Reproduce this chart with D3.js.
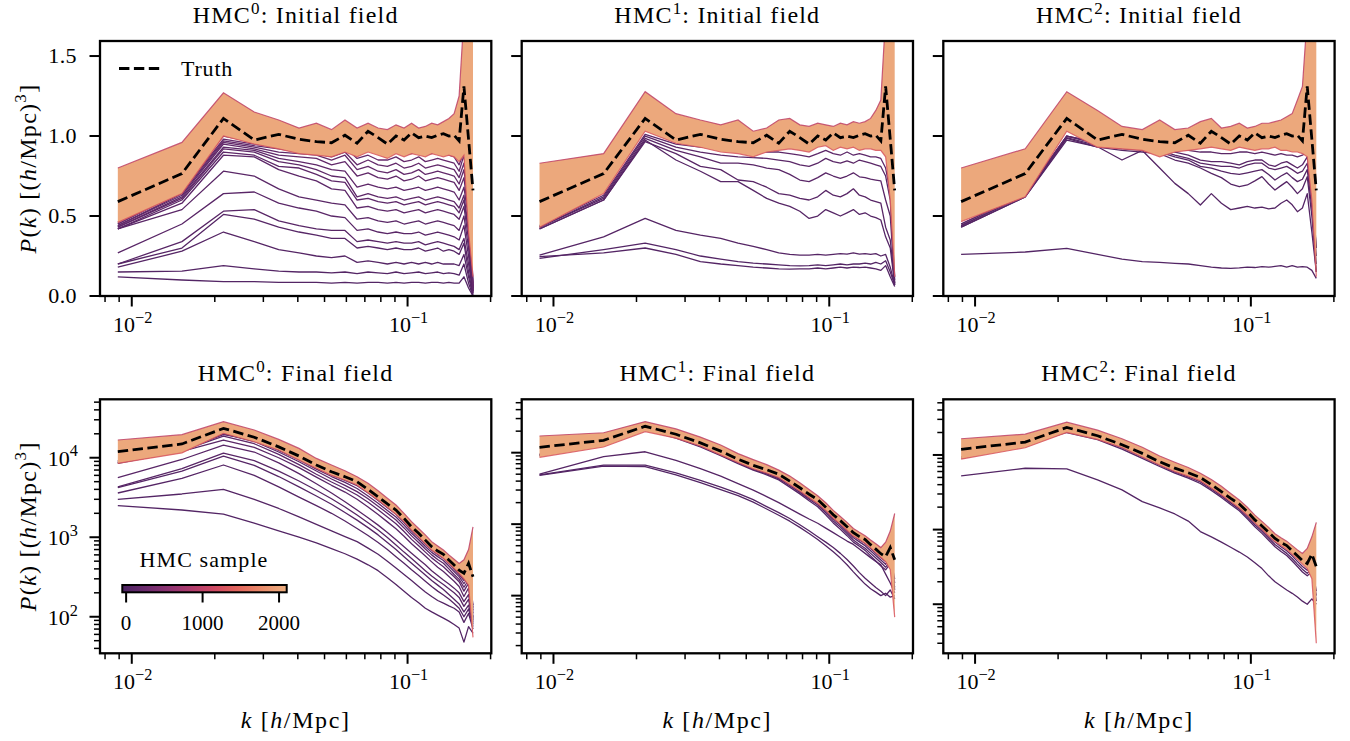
<!DOCTYPE html>
<html>
<head>
<meta charset="utf-8">
<script src="https://cdn.jsdelivr.net/npm/d3@7/dist/d3.min.js"></script>
<style>
  body { margin: 0; background: #fff; }
  svg { display: block; }
  text { font-family: "Liberation Serif", "DejaVu Serif", serif; fill: #000; }
</style>
</head>
<body>
<svg id="chart" width="1350" height="741"></svg>
<script>
// ---- wavenumber bins [h/Mpc] ----
const kBins = [0.0089, 0.0152, 0.0215, 0.0278, 0.0341, 0.0404, 0.0467, 0.0530, 0.0593, 0.0656,
  0.0719, 0.0782, 0.0845, 0.0908, 0.0971, 0.1034, 0.1097, 0.1160, 0.1223, 0.1286,
  0.1349, 0.1412, 0.1475, 0.1538, 0.1601, 0.1664, 0.1727];

// ---- true power spectra ----
const truthInitial = [0.59, 0.765, 1.11, 0.975, 1.01, 0.98, 0.965, 0.958, 1.005, 0.955, 1.03, 0.99, 0.95, 1.0,
  0.975, 1.02, 0.99, 1.0, 0.99, 1.005, 1.015, 1.0, 1.005, 0.97, 1.31, 0.98, 0.66];
const truthFinal = [11900, 14900, 23400, 18100, 13700, 10500, 8100, 6650, 5770, 4990, 4000, 3230, 2620, 2200,
  1730, 1350, 1120, 920, 760, 670, 610, 516, 447, 386, 352, 470, 318];

// ---- HMC colour bar ----
const sampleRange = [-50, 2100];
const sampleTicks = [0, 1000, 2000];
const flareStops = ["#4b2362", "#6c2b6d", "#8f3371", "#b13c6c", "#d14a61", "#e3685c", "#e98d6b", "#edb081"];

// ---- early (burn-in) samples, initial field ----
const initBurn0 = [
  [0.12,0.10,0.09,0.09,0.085,0.085,0.085,0.08,0.085,0.08,0.085,0.085,0.08,0.085,0.08,0.085,0.085,0.08,0.085,0.085,0.08,0.085,0.08,0.08,0.12,0.05,0.0],
  [0.15,0.155,0.19,0.17,0.155,0.15,0.15,0.145,0.15,0.14,0.15,0.145,0.14,0.15,0.14,0.145,0.15,0.14,0.145,0.15,0.14,0.145,0.14,0.13,0.2,0.08,0.0],
  [0.18,0.28,0.40,0.34,0.29,0.27,0.25,0.24,0.25,0.21,0.22,0.21,0.2,0.21,0.2,0.21,0.2,0.21,0.2,0.21,0.2,0.2,0.2,0.19,0.26,0.12,0.0],
  [0.20,0.30,0.51,0.48,0.43,0.40,0.38,0.36,0.36,0.30,0.31,0.30,0.29,0.30,0.29,0.29,0.30,0.28,0.29,0.30,0.28,0.29,0.28,0.26,0.33,0.15,0.01],
  [0.20,0.34,0.53,0.54,0.47,0.44,0.42,0.41,0.41,0.34,0.35,0.34,0.33,0.34,0.33,0.33,0.34,0.32,0.33,0.34,0.33,0.32,0.31,0.29,0.36,0.2,0.02],
  [0.27,0.45,0.64,0.65,0.58,0.55,0.53,0.50,0.49,0.41,0.42,0.40,0.39,0.40,0.39,0.39,0.40,0.38,0.39,0.40,0.39,0.38,0.37,0.35,0.44,0.25,0.02],
  [0.42,0.54,0.78,0.75,0.67,0.62,0.60,0.58,0.57,0.48,0.49,0.47,0.46,0.47,0.45,0.46,0.47,0.45,0.46,0.47,0.46,0.45,0.44,0.41,0.50,0.30,0.03],
  [0.42,0.58,0.88,0.87,0.79,0.75,0.72,0.67,0.66,0.55,0.56,0.54,0.53,0.54,0.52,0.53,0.54,0.52,0.53,0.54,0.53,0.52,0.51,0.48,0.56,0.35,0.03],
  [0.42,0.60,0.90,0.88,0.81,0.80,0.76,0.72,0.71,0.60,0.61,0.59,0.58,0.59,0.57,0.58,0.59,0.57,0.58,0.59,0.58,0.57,0.56,0.52,0.60,0.4,0.03],
  [0.43,0.61,0.92,0.90,0.84,0.82,0.79,0.75,0.74,0.62,0.64,0.62,0.61,0.62,0.60,0.61,0.62,0.60,0.61,0.62,0.61,0.60,0.59,0.55,0.63,0.42,0.04],
  [0.43,0.62,0.93,0.91,0.86,0.84,0.82,0.79,0.78,0.68,0.70,0.68,0.67,0.68,0.66,0.67,0.68,0.66,0.67,0.68,0.67,0.66,0.65,0.60,0.68,0.48,0.04],
  [0.44,0.63,0.95,0.92,0.88,0.87,0.86,0.82,0.84,0.75,0.77,0.74,0.73,0.75,0.72,0.73,0.75,0.72,0.73,0.74,0.73,0.72,0.71,0.66,0.74,0.5,0.05],
  [0.44,0.64,0.96,0.93,0.90,0.89,0.88,0.85,0.88,0.79,0.81,0.78,0.77,0.79,0.76,0.77,0.79,0.76,0.77,0.78,0.77,0.76,0.75,0.70,0.79,0.55,0.05],
  [0.45,0.65,0.97,0.94,0.92,0.90,0.89,0.87,0.90,0.82,0.85,0.82,0.81,0.83,0.80,0.81,0.83,0.80,0.81,0.82,0.81,0.80,0.79,0.74,0.83,0.6,0.06],
  [0.45,0.66,0.98,0.95,0.93,0.92,0.91,0.89,0.93,0.86,0.88,0.85,0.85,0.87,0.84,0.85,0.87,0.84,0.85,0.86,0.85,0.84,0.83,0.78,0.88,0.65,0.06],
  [0.46,0.68,1.00,0.96,0.95,0.94,0.93,0.91,0.95,0.89,0.92,0.89,0.89,0.91,0.88,0.89,0.91,0.88,0.89,0.90,0.89,0.88,0.87,0.82,0.90,0.7,0.08]
];
const initBurn1 = [
  [0.235,0.29,0.33,0.29,0.25,0.23,0.215,0.205,0.2,0.195,0.19,0.188,0.19,0.195,0.19,0.195,0.2,0.195,0.2,0.2,0.205,0.2,0.21,0.2,0.22,0.15,0.07],
  [0.246,0.27,0.30,0.26,0.215,0.2,0.19,0.18,0.175,0.17,0.168,0.17,0.17,0.175,0.17,0.175,0.18,0.175,0.18,0.178,0.18,0.175,0.17,0.16,0.19,0.12,0.06],
  [0.256,0.37,0.485,0.41,0.38,0.36,0.33,0.31,0.29,0.27,0.26,0.255,0.255,0.26,0.255,0.26,0.265,0.262,0.27,0.262,0.265,0.26,0.265,0.25,0.26,0.18,0.07],
  [0.42,0.60,0.975,0.85,0.78,0.715,0.715,0.66,0.61,0.58,0.56,0.53,0.485,0.50,0.54,0.52,0.50,0.52,0.54,0.51,0.52,0.50,0.49,0.475,0.37,0.3,0.07],
  [0.42,0.60,0.965,0.89,0.81,0.79,0.725,0.715,0.68,0.64,0.63,0.61,0.60,0.62,0.66,0.63,0.62,0.64,0.67,0.63,0.62,0.60,0.59,0.58,0.43,0.35,0.08],
  [0.43,0.61,0.985,0.91,0.87,0.83,0.83,0.82,0.80,0.79,0.76,0.725,0.715,0.74,0.77,0.75,0.735,0.75,0.77,0.745,0.74,0.73,0.725,0.72,0.6,0.5,0.08],
  [0.43,0.62,1.0,0.93,0.90,0.88,0.87,0.865,0.86,0.85,0.84,0.82,0.81,0.83,0.86,0.84,0.83,0.845,0.83,0.85,0.84,0.83,0.82,0.81,0.75,0.6,0.1],
  [0.44,0.63,1.01,0.95,0.93,0.92,0.91,0.91,0.90,0.90,0.89,0.88,0.87,0.89,0.91,0.89,0.88,0.90,0.88,0.89,0.88,0.87,0.87,0.86,0.8,0.65,0.12]
];
const initBurn2 = [
  [0.26,0.275,0.298,0.26,0.23,0.215,0.21,0.204,0.2,0.19,0.18,0.175,0.173,0.176,0.18,0.178,0.183,0.18,0.185,0.19,0.18,0.19,0.18,0.183,0.18,0.16,0.11],
  [0.43,0.62,0.975,0.933,0.85,0.91,0.80,0.704,0.64,0.569,0.64,0.58,0.54,0.55,0.56,0.55,0.555,0.545,0.55,0.58,0.6,0.57,0.527,0.55,0.64,0.4,0.15],
  [0.43,0.62,0.985,0.93,0.91,0.90,0.89,0.85,0.83,0.80,0.767,0.74,0.70,0.683,0.694,0.72,0.746,0.70,0.6625,0.69,0.715,0.68,0.64,0.67,0.746,0.5,0.15],
  [0.44,0.63,0.99,0.94,0.92,0.91,0.90,0.87,0.85,0.81,0.80,0.78,0.767,0.76,0.77,0.78,0.79,0.76,0.725,0.75,0.77,0.74,0.715,0.73,0.79,0.55,0.2],
  [0.44,0.63,1.0,0.95,0.93,0.92,0.91,0.88,0.86,0.83,0.82,0.81,0.81,0.80,0.82,0.83,0.83,0.80,0.79,0.80,0.81,0.79,0.767,0.78,0.83,0.6,0.25],
  [0.45,0.64,1.0,0.96,0.94,0.93,0.92,0.90,0.88,0.85,0.84,0.84,0.83,0.82,0.84,0.85,0.85,0.82,0.81,0.83,0.84,0.82,0.80,0.82,0.87,0.65,0.3],
  [0.45,0.64,1.0,0.96,0.95,0.94,0.93,0.92,0.91,0.9,0.9,0.89,0.89,0.9,0.9,0.89,0.9,0.89,0.88,0.89,0.88,0.88,0.87,0.88,0.9,0.7,0.3]
];

// ---- spread of the later samples, initial field ----
const initBandUpper0 = [0.80,0.96,1.27,1.15,1.10,1.05,1.08,1.04,1.10,1.05,1.08,1.05,1.04,1.07,1.05,1.08,1.05,1.06,1.08,1.07,1.09,1.11,1.14,1.25,1.75,1.75,1.75];
const initBandLower0 = [0.46,0.64,1.00,0.95,0.92,0.89,0.88,0.87,0.90,0.87,0.90,0.88,0.86,0.89,0.87,0.89,0.88,0.87,0.89,0.88,0.87,0.88,0.87,0.84,0.88,0.40,0.12];
const initBandUpper1 = [0.83,0.89,1.277,1.14,1.10,1.07,1.10,1.03,1.05,1.10,1.11,1.07,1.06,1.08,1.07,1.06,1.08,1.07,1.09,1.08,1.09,1.11,1.16,1.225,1.75,1.75,1.75];
const initBandLower1 = [0.43,0.64,1.03,0.955,0.93,0.90,0.89,0.87,0.90,0.91,0.92,0.91,0.90,0.93,0.94,0.91,0.93,0.92,0.93,0.91,0.92,0.92,0.91,0.91,0.87,0.60,0.12];
const initBandUpper2 = [0.80,0.92,1.277,1.16,1.06,1.04,1.10,1.04,1.05,1.09,1.11,1.05,1.06,1.08,1.05,1.06,1.08,1.08,1.09,1.10,1.12,1.14,1.225,1.31,1.75,1.75,1.75];
const initBandLower2 = [0.465,0.62,1.03,0.93,0.92,0.91,0.87,0.90,0.91,0.92,0.93,0.92,0.91,0.93,0.92,0.91,0.92,0.92,0.93,0.91,0.91,0.90,0.90,0.89,0.87,0.60,0.12];

// ---- early (burn-in) samples, final field ----
const finalBurn0 = [
  [2500,2200,1950,1500,1200,1000,850,720,620,530,450,380,310,255,210,175,150,128,115,105,96,88,80,72,48,75,62],
  [3000,3500,4000,3000,2300,1800,1450,1200,1020,880,730,610,500,410,340,285,240,205,180,160,148,137,128,115,85,110,70],
  [3600,5500,8100,6000,4300,3200,2500,2000,1600,1290,1050,860,700,570,470,390,330,280,240,210,188,167,147,128,100,125,75],
  [4200,6800,10500,8000,5800,4300,3300,2600,2050,1640,1320,1070,860,700,570,470,395,335,285,250,220,190,166,145,115,140,80],
  [4300,7300,11400,9200,6800,5100,3900,3050,2400,1900,1520,1230,990,800,650,540,450,380,325,285,255,225,200,175,135,165,85],
  [5600,9500,14400,11800,8600,6300,4700,3600,2800,2200,1760,1420,1150,930,760,630,530,450,380,330,290,258,229,200,155,190,90],
  [8500,12000,16700,13500,10000,7500,5700,4500,3700,3000,2400,1930,1560,1280,1030,830,690,580,490,420,370,320,280,240,180,230,95],
  [8600,12300,18700,15000,11000,8200,6200,4950,4100,3400,2750,2220,1800,1480,1180,940,780,650,550,480,425,365,318,275,210,265,100],
  [8700,12500,20000,16000,11800,8900,6800,5400,4500,3750,3050,2460,2000,1650,1310,1040,860,710,600,525,470,400,340,295,235,290,110],
  [8800,12600,19500,16900,12800,9800,7500,6100,5200,4450,3600,2900,2350,1950,1530,1200,990,815,685,605,545,465,395,340,285,350,130],
  [9000,12800,20300,16600,12400,9400,7200,5800,4900,4100,3300,2680,2170,1800,1420,1120,930,765,645,570,510,435,370,320,260,320,120],
  [9200,13000,21000,17200,13100,10100,7800,6350,5450,4700,3800,3050,2480,2070,1620,1270,1050,865,720,640,575,495,420,360,300,380,140]
];
const finalBurn1 = [
  [4800,6500,6400,4900,3800,3050,2500,2030,1630,1330,1100,900,740,610,500,410,335,270,215,175,145,125,112,100,108,95,100],
  [4900,6700,6700,5200,4100,3300,2700,2200,1760,1450,1200,980,810,668,560,470,390,320,260,210,175,150,130,115,100,120,90],
  [5000,8800,10300,7800,6000,4700,3700,3000,2430,2000,1650,1380,1180,1030,880,760,660,580,520,450,390,340,300,270,200,150,110],
  [9000,13500,21000,16000,12000,9100,7000,5700,4900,4150,3300,2650,2120,1750,1350,1040,850,690,560,490,430,360,305,260,230,280,120],
  [9200,13800,21500,16400,12300,9300,7200,5850,5050,4300,3450,2780,2230,1850,1440,1110,910,740,600,520,460,390,335,290,250,300,130],
  [9400,14000,22000,16800,12700,9600,7400,6050,5200,4450,3580,2880,2330,1940,1520,1180,970,790,645,565,500,425,365,315,275,330,150],
  [9500,14200,22300,17100,12900,9800,7600,6200,5350,4600,3700,2980,2420,2020,1590,1240,1020,835,685,600,535,455,390,340,300,360,170]
];
const finalBurn2 = [
  [5230,6640,6500,4630,3400,2370,1950,1620,1300,940,800,680,580,500,430,360,300,240,200,175,155,140,125,110,100,118,100],
  [9000,13500,20000,16000,12000,9000,7000,5700,4900,4150,3350,2700,2170,1790,1400,1090,890,720,590,510,450,380,320,270,240,270,110],
  [9200,14000,21000,16600,12500,9400,7300,5950,5100,4350,3500,2830,2280,1880,1480,1160,950,770,630,550,480,410,345,295,260,300,130],
  [9400,14300,21600,17000,12900,9700,7500,6150,5300,4550,3650,2950,2390,1980,1560,1230,1010,820,680,590,520,445,375,320,285,330,150]
];

// ---- spread of the later samples, final field ----
const finalBandUpper0 = [16700,19500,28400,22300,17000,13100,9800,8100,6870,5770,4760,3850,3090,2540,2000,1570,1290,1070,880,776,692,600,528,469,520,700,1350];
const finalBandLower0 = [8500,11500,20300,15900,12500,9350,7360,6000,5240,4540,3630,2940,2380,1950,1570,1230,1010,830,690,616,543,469,406,352,300,250,55];
const finalBandUpper1 = [17100,19000,27200,21500,16500,12800,9700,8000,6800,5700,4700,3800,3050,2500,1990,1560,1280,1060,870,770,690,600,530,470,560,800,1410];
const finalBandLower1 = [8600,12000,19700,16000,12400,9300,7300,5950,5200,4500,3600,2920,2360,1940,1560,1220,1000,820,680,610,540,465,400,345,300,230,50];
const finalBandUpper2 = [16500,19000,27500,21500,16500,12700,9700,8000,6800,5700,4700,3800,3050,2500,1990,1560,1290,1070,880,780,700,610,535,480,560,800,1250];
const finalBandLower2 = [8800,12500,20000,16200,12600,9400,7350,6000,5200,4500,3620,2930,2370,1950,1560,1230,1010,825,690,610,540,465,400,345,300,220,30];

// ---- axis settings ----
const kDomain = [0.00767, 0.2012];
const initDomain = [0, 1.594];
const initTicks = [0.0, 0.5, 1.0, 1.5];
const finalDomains = [[34.7, 54300], [15.6, 55800], [22, 55700]];
const chainLabels = ["0", "1", "2"];

// ---------------------------------------------------------------
const svg = d3.select("#chart");
const colX = [100, 521.7, 943.3];
const panelW = 391.3;
const rows = [{ top: 41, h: 255 }, { top: 399.3, h: 254 }];

const flare = d3.piecewise(d3.interpolateRgb, flareStops);
const sampleToUnit = d3.scaleLinear().domain(sampleRange).range([0, 1]).clamp(true);
const sampleColor = s => flare(sampleToUnit(s));

const defs = svg.append("defs");

function superText(sel, base, sup, fs) {
  sel.append("tspan").text(base);
  sel.append("tspan").attr("dy", -fs * 0.42).attr("font-size", fs * 0.74).text(sup);
}

function drawPanel(id, row, col) {
  const isFinal = row === 1;
  const x0 = colX[col], y0 = rows[row].top, h = rows[row].h;
  const g = svg.append("g").attr("transform", `translate(${x0},${y0})`);
  const x = d3.scaleLog().domain(kDomain).range([0, panelW]);
  const y = isFinal
    ? d3.scaleLog().domain(finalDomains[col]).range([h, 0])
    : d3.scaleLinear().domain(initDomain).range([h, 0]);

  defs.append("clipPath").attr("id", "clip" + id)
    .append("rect").attr("width", panelW).attr("height", h);
  const plot = g.append("g").attr("clip-path", `url(#clip${id})`);

  const burn = isFinal ? [finalBurn0, finalBurn1, finalBurn2][col] : [initBurn0, initBurn1, initBurn2][col];
  const upper = isFinal ? [finalBandUpper0, finalBandUpper1, finalBandUpper2][col] : [initBandUpper0, initBandUpper1, initBandUpper2][col];
  const lower = isFinal ? [finalBandLower0, finalBandLower1, finalBandLower2][col] : [initBandLower0, initBandLower1, initBandLower2][col];
  const truth = isFinal ? truthFinal : truthInitial;

  const line = d3.line().x((d, i) => x(kBins[i])).y(d => y(d));

  // early samples (dark purple)
  burn.forEach((vals, j) => {
    plot.append("path").attr("d", line(vals))
      .attr("fill", "none").attr("stroke", sampleColor(20 + j * 12))
      .attr("stroke-width", 1.3).attr("stroke-linejoin", "round");
  });

  // spread of later samples
  const area = d3.area().x((d, i) => x(kBins[i]))
    .y0((d, i) => y(lower[i])).y1((d, i) => y(upper[i]));
  plot.append("path").datum(upper).attr("d", area)
    .attr("fill", sampleColor(2030)).attr("stroke", "none");
  plot.append("path").attr("d", line(lower)).attr("fill", "none")
    .attr("stroke", sampleColor(1300)).attr("stroke-width", 1.2).attr("opacity", 0.85);
  plot.append("path").attr("d", line(upper)).attr("fill", "none")
    .attr("stroke", sampleColor(1000)).attr("stroke-width", 1.2).attr("opacity", 0.85);

  // truth
  plot.append("path").attr("d", line(truth)).attr("fill", "none")
    .attr("stroke", "#000").attr("stroke-width", 2.8)
    .attr("stroke-dasharray", "10.4,4.5");

  // x ticks
  const xMajor = [0.01, 0.1];
  const xMinor = [0.008, 0.009, 0.02, 0.03, 0.04, 0.05, 0.06, 0.07, 0.08, 0.09, 0.2];
  xMinor.forEach(v => {
    const px = x(v);
    if (px < -0.5 || px > panelW + 0.5) return;
    g.append("line").attr("x1", px).attr("x2", px).attr("y1", h).attr("y2", h + 6)
      .attr("stroke", "#000").attr("stroke-width", 1.5);
  });
  xMajor.forEach((v, i) => {
    const px = x(v);
    g.append("line").attr("x1", px).attr("x2", px).attr("y1", h).attr("y2", h + 10.5)
      .attr("stroke", "#000").attr("stroke-width", 2);
    const t = g.append("text").attr("x", px + 1).attr("y", h + 36).attr("text-anchor", "middle")
      .attr("font-size", 22);
    superText(t, "10", i === 0 ? "\u22122" : "\u22121", 22);
  });

  // y ticks
  if (!isFinal) {
    initTicks.forEach(v => {
      const py = y(v);
      g.append("line").attr("x1", -10.5).attr("x2", 0).attr("y1", py).attr("y2", py)
        .attr("stroke", "#000").attr("stroke-width", 2);
      if (col === 0) {
        g.append("text").attr("x", -23).attr("y", py + 7).attr("text-anchor", "end")
          .attr("font-size", 22).attr("letter-spacing", 0.4).text(v.toFixed(1));
      }
    });
  } else {
    const dom = finalDomains[col];
    for (let e = 1; e <= 4; e++) {
      for (let m = 1; m <= 9; m++) {
        const v = m * Math.pow(10, e);
        if (v < dom[0] || v > dom[1]) continue;
        const py = y(v);
        const major = m === 1;
        g.append("line").attr("x1", major ? -10.5 : -6).attr("x2", 0).attr("y1", py).attr("y2", py)
          .attr("stroke", "#000").attr("stroke-width", major ? 2 : 1.5);
        if (major && col === 0) {
          const t = g.append("text").attr("x", -22).attr("y", py + 8).attr("text-anchor", "end")
            .attr("font-size", 22);
          superText(t, "10", String(e), 22);
        }
      }
    }
  }

  // frame
  g.append("rect").attr("width", panelW).attr("height", h)
    .attr("fill", "none").attr("stroke", "#000").attr("stroke-width", 2.3);

  // title
  const title = g.append("text").attr("x", panelW / 2).attr("y", -18)
    .attr("text-anchor", "middle").attr("font-size", 24).attr("letter-spacing", 1.2);
  title.append("tspan").text("HMC");
  title.append("tspan").attr("dy", -9).attr("font-size", 17).text(chainLabels[col]);
  title.append("tspan").attr("dy", 9).text(isFinal ? ": Final field" : ": Initial field");

  // axis labels
  if (col === 0) {
    const yl = g.append("text")
      .attr("transform", `translate(${-64},${h / 2}) rotate(-90)`)
      .attr("text-anchor", "middle").attr("font-size", 24).attr("letter-spacing", 1.3);
    yl.append("tspan").attr("font-style", "italic").text("P");
    yl.append("tspan").text("(");
    yl.append("tspan").attr("font-style", "italic").text("k");
    yl.append("tspan").text(") [(");
    yl.append("tspan").attr("font-style", "italic").text("h");
    yl.append("tspan").text("/Mpc)");
    yl.append("tspan").attr("dy", -10).attr("font-size", 17).text("3");
    yl.append("tspan").attr("dy", 10).text("]");
  }
  if (isFinal) {
    const xl = g.append("text").attr("x", panelW / 2).attr("y", h + 75)
      .attr("text-anchor", "middle").attr("font-size", 24).attr("letter-spacing", 1.6);
    xl.append("tspan").attr("font-style", "italic").text("k");
    xl.append("tspan").text(" [");
    xl.append("tspan").attr("font-style", "italic").text("h");
    xl.append("tspan").text("/Mpc]");
  }

  // legend
  if (!isFinal && col === 0) {
    g.append("line").attr("x1", 19).attr("x2", 63).attr("y1", 27.5).attr("y2", 27.5)
      .attr("stroke", "#000").attr("stroke-width", 2.8).attr("stroke-dasharray", "10.4,4.5");
    g.append("text").attr("x", 81).attr("y", 34.5).attr("font-size", 22)
      .attr("letter-spacing", 0.8).text("Truth");
  }

  // colour bar
  if (isFinal && col === 0) {
    const cb = svg.append("g");
    const cx = d3.scaleLinear().domain(sampleRange).range([122.3, 286.7]);
    const grad = defs.append("linearGradient").attr("id", "hmcGrad");
    d3.range(0, 1.0001, 0.05).forEach(t => {
      grad.append("stop").attr("offset", t).attr("stop-color", flare(t));
    });
    cb.append("rect").attr("x", cx(sampleRange[0])).attr("y", 585)
      .attr("width", cx(sampleRange[1]) - cx(sampleRange[0])).attr("height", 7.3)
      .attr("fill", "url(#hmcGrad)").attr("stroke", "#000").attr("stroke-width", 2);
    sampleTicks.forEach(s => {
      cb.append("line").attr("x1", cx(s)).attr("x2", cx(s)).attr("y1", 592.3).attr("y2", 602.5)
        .attr("stroke", "#000").attr("stroke-width", 2);
      cb.append("text").attr("x", cx(s)).attr("y", 630).attr("text-anchor", "middle")
        .attr("font-size", 21).text(s);
    });
    cb.append("text").attr("x", 204).attr("y", 566.5).attr("text-anchor", "middle")
      .attr("font-size", 22).attr("letter-spacing", 1.1).text("HMC sample");
  }
}

let pid = 0;
for (let r = 0; r < 2; r++) for (let c = 0; c < 3; c++) drawPanel(pid++, r, c);
</script>
</body>
</html>
